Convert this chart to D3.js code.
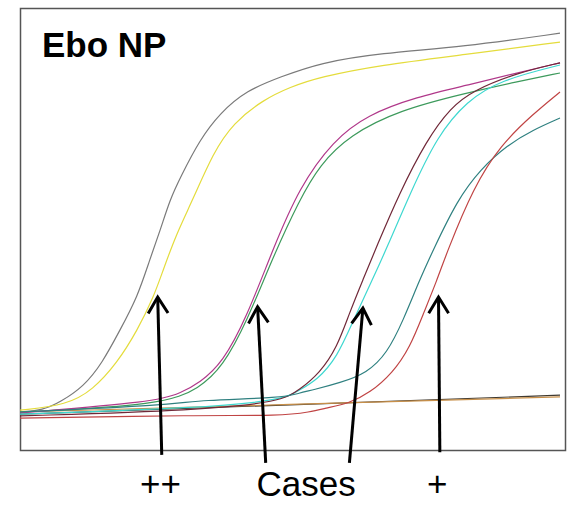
<!DOCTYPE html>
<html>
<head>
<meta charset="utf-8">
<script src="https://cdn.jsdelivr.net/npm/d3@7"></script>
<style>
  body { margin: 0; background: #fff; }
  svg { display: block; font-family: Arial, "Liberation Sans", sans-serif; }
</style>
</head>
<body>
<div id="chart"></div>
<script>
//// DATA ////
// amplification curves: [cycle, fluorescence]
var grayCurve = [[0,86],[1.7,90],[3,109],[4.7,143],[6.1,197],[7.4,271],[8.7,346],[9.6,430],[10.4,498],[11.1,566],[11.9,618],[13.3,701],[14.8,762],[16.8,814],[19.3,844],[22.2,876],[26.7,898],[32.8,912],[40,943]];
var yellowCurve = [[0,90],[3.5,102],[5.4,136],[7.2,197],[8.7,271],[9.9,346],[10.6,407],[11.6,490],[12.8,566],[14.3,672],[15.8,740],[18,792],[20,821],[22.2,844],[26.7,871],[32.8,894],[40,923]];
var magentaCurve = [[0,84],[10.1,109],[11.9,129],[13.3,152],[15,197],[16.8,301],[18.7,452],[20.7,595],[23.2,700],[25.7,758],[29.4,799],[33.1,825],[36.8,853],[40,876]];
var greenCurve = [[0,86],[10.6,102],[13.3,140],[15,188],[16.8,290],[18.7,434],[20.7,566],[22.2,645],[24.4,712],[28.1,769],[33.1,808],[36.8,833],[40,853]];
var maroonCurve = [[0,77],[13.3,90],[19.3,109],[20.7,136],[22.2,174],[23.5,233],[24.4,310],[25.4,385],[26.4,459],[28.1,581],[30.1,700],[31.9,775],[33.6,814],[36.8,853],[40,876]];
var cyanCurve = [[0,81],[13.3,95],[19.5,113],[20.7,136],[22,158],[23.5,210],[24.7,294],[26.1,385],[27.2,459],[28.9,581],[30.9,710],[33.1,790],[35.6,837],[40,871]];
var tealCurve = [[0,86],[11.1,102],[13.3,113],[19.5,118],[20.7,129],[21.7,136],[23.7,152],[25.7,174],[27.2,219],[28.4,294],[29.6,385],[30.6,452],[32.4,566],[34.1,635],[36.1,690],[38,724],[40,751]];
var redCurve = [[0,72],[13.3,79],[19.3,77],[21.5,86],[22.7,95],[24.4,106],[25.9,129],[27.6,174],[28.9,233],[29.9,310],[30.9,385],[31.6,446],[33.6,595],[35.6,690],[38,760],[40,810]];
var brownFlat = [[0,86],[20,103],[40,120]];
var darkFlat = [[0,81],[20,102],[40,124]];

var curves = [darkFlat, brownFlat, grayCurve, yellowCurve, greenCurve, magentaCurve, cyanCurve, maroonCurve, tealCurve, redCurve];
var curveColors = ["#403a30", "#c8904a", "#7a7a7a", "#e4dc3c", "#3d9a5c", "#b0388a", "#3ed8d0", "#702838", "#2f8080", "#c04444"];

// arrows: tip [cycle, fluor], tail [cycle, fluor]
var arrowTips = [[10.2, 346], [17.6, 324], [25.4, 321], [31.0, 346]];
var arrowTails = [[10.5, -11], [18.2, -29], [24.4, -29], [31.1, -5]];
var labelCycles = [10.4, 21.2, 30.9];
var labelTexts = ["++", "Cases", "+"];
var title = "Ebo NP";

//// SET UP ////
var svgWidth = 567;
var svgHeight = 505;

var svg = d3.select("#chart")
  .append("svg")
  .attr("width", svgWidth)
  .attr("height", svgHeight);

var xScale = d3.scaleLinear().domain([0, 40]).range([20, 560]);
var yScale = d3.scaleLinear().domain([0, 1000]).range([450, 8]);

// plot frame
svg.append("rect")
  .attr("x", 20.5)
  .attr("y", 8.5)
  .attr("width", 545)
  .attr("height", 442)
  .attr("fill", "#fff")
  .attr("stroke", "#555")
  .attr("stroke-width", 1.5);

var line = d3.line()
  .x(d => xScale(d[0]))
  .y(d => yScale(d[1]))
  .curve(d3.curveBasis);

svg.selectAll("path.curve")
  .data(curves)
  .enter()
  .append("path")
  .attr("class", "curve")
  .attr("d", line)
  .attr("fill", "none")
  .attr("stroke", (d, i) => curveColors[i])
  .attr("stroke-width", 1.2);

// title
svg.append("text")
  .attr("x", 42)
  .attr("y", 57)
  .attr("font-size", 35)
  .attr("font-weight", "bold")
  .text(title);

// arrows
var arrows = svg.append("g");
arrowTips.forEach(function(tip, i) {
  var tail = arrowTails[i];
  var x1 = xScale(tail[0]), y1 = yScale(tail[1]);
  var x2 = xScale(tip[0]), y2 = yScale(tip[1]);
  arrows.append("line")
    .attr("x1", x1).attr("y1", y1)
    .attr("x2", x2).attr("y2", y2)
    .attr("stroke", "#000")
    .attr("stroke-width", 3);
  var ang = Math.atan2(y2 - y1, x2 - x1);
  var len = 19, spread = 0.55;
  var p1 = [x2 - len * Math.cos(ang - spread), y2 - len * Math.sin(ang - spread)];
  var p2 = [x2 - len * Math.cos(ang + spread), y2 - len * Math.sin(ang + spread)];
  arrows.append("path")
    .attr("d", `M${p1[0]},${p1[1]}L${x2},${y2}L${p2[0]},${p2[1]}`)
    .attr("fill", "none")
    .attr("stroke", "#000")
    .attr("stroke-width", 3);
});

// labels under arrows
svg.selectAll("text.label")
  .data(labelTexts)
  .enter()
  .append("text")
  .attr("class", "label")
  .attr("x", (d, i) => xScale(labelCycles[i]))
  .attr("y", 496)
  .attr("text-anchor", "middle")
  .attr("font-size", 35)
  .text(d => d);
</script>
</body>
</html>
